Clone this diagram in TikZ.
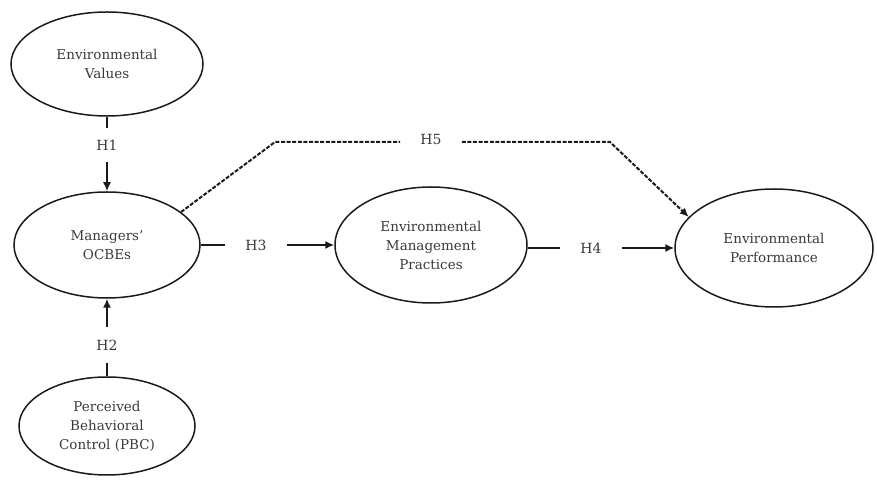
\documentclass[tikz,border=0pt]{standalone}
\usepackage{fontspec}
\setmainfont{DejaVu Serif}
\usetikzlibrary{shapes.geometric,arrows.meta}
\definecolor{txt}{HTML}{3A3A3A}
\definecolor{ln}{HTML}{1A1A1A}
\tikzset{
  oval/.style={ellipse, draw=ln, line width=1.5pt, inner sep=0pt, align=center,
    text=txt, font=\fontsize{13.5}{19}\selectfont},
  hyp/.style={text=txt, font=\fontsize{14}{16}\selectfont, inner xsep=20pt, inner ysep=12pt},
  link/.style={draw=ln, line width=1.5pt},
  tip/.style={-{Latex[length=9pt,width=8pt]}},
  dashlink/.style={draw=ln, line width=2pt, dash pattern=on 4pt off 1.6pt}
}
\begin{document}
\begin{tikzpicture}[x=1pt,y=1pt]
\useasboundingbox (0,0) rectangle (877,481);
\node[oval, minimum width=192pt, minimum height=104pt] (ev) at (107,417) {Environmental\\Values};
\node[oval, minimum width=186pt, minimum height=106pt] (oc) at (107,236) {Managers'\\OCBEs};
\node[oval, minimum width=176pt, minimum height=98pt] (pbc) at (107,55) {Perceived\\Behavioral\\Control (PBC)};
\node[oval, minimum width=192pt, minimum height=116pt] (emp) at (431,236) {Environmental\\Management\\Practices};
\node[oval, minimum width=198pt, minimum height=118pt] (ep) at (774,233) {Environmental\\Performance};
\node[hyp] (h1) at (107,336) {H1};
\node[hyp, inner ysep=13pt] (h2) at (107,136) {H2};
\node[hyp] (h3) at (256,236) {H3};
\node[hyp] (h4) at (591,233) {H4};
\node[hyp] (h5) at (431,341) {H5};
\coordinate (b1) at (275,339);
\coordinate (b2) at (610,339);
\draw[link] (ev.south) -- (h1.north);
\draw[link, tip] (h1.south) -- (oc.north);
\draw[link] (pbc.north) -- (h2.south);
\draw[link, tip] (h2.north) -- (oc.south);
\draw[link] (oc.east) -- (h3.west);
\draw[link, tip] (h3.east) -- (emp.west);
\draw[link] (emp.east |- h4.west) -- (h4.west);
\draw[link, tip] (h4.east) -- (ep.west);
\draw[dashlink] (oc.24) -- (b1) -- (h5.west |- b1);
\draw[dashlink, tip] (h5.east |- b2) -- (b2) -- (ep.160);
\end{tikzpicture}
\end{document}
